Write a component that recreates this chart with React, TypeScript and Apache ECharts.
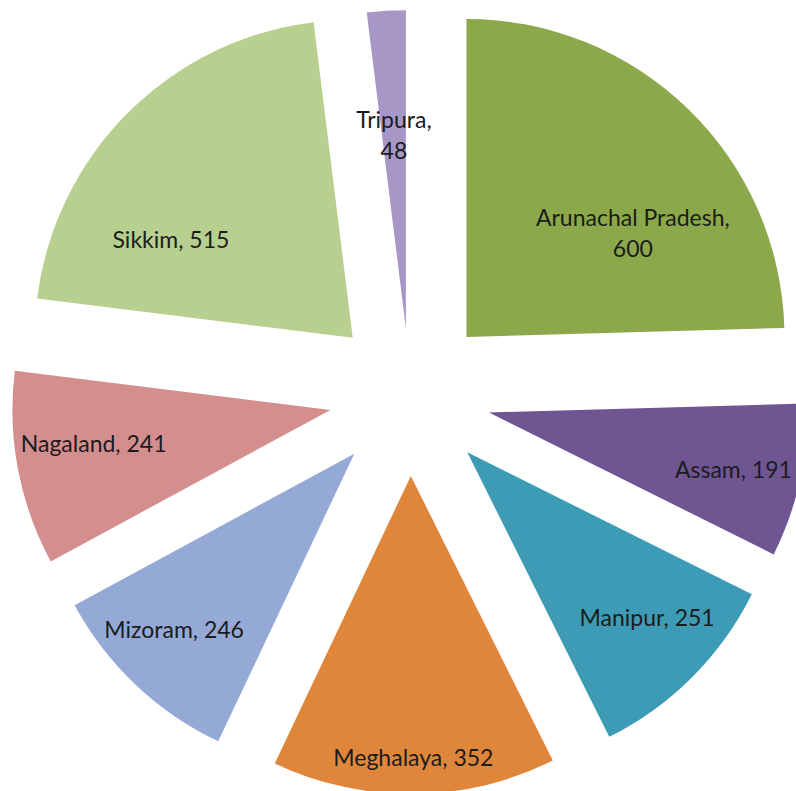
import React, { useEffect, useRef } from "react";
import * as echarts from "echarts";

const states = ["Arunachal Pradesh", "Assam", "Manipur", "Meghalaya", "Mizoram", "Nagaland", "Sikkim", "Tripura"];
const values = [600, 191, 251, 352, 246, 241, 515, 48];

// styles (not data)
const colors = ["#8BA84A", "#705593", "#3D9BB5", "#E0863B", "#94A9D5", "#D48E8D", "#B7CF8F", "#A797C7"];
const explode = [81, 81, 81, 81, 81, 81, 81, 67];
const labelNudge = [[-3, 70], [7, 4], [8, -7], [0, 38], [-13, -1], [2, -12], [-10, 73], [3, 49]];
const twoLine = [true, false, false, false, false, false, false, true];

export default function App() {
  const ref = useRef<HTMLDivElement>(null);
  useEffect(() => {
    document.body.style.margin = "0";
    const chart = echarts.init(ref.current!, null, { renderer: "svg" });
    const center = [410, 395];
    const R = 318;
    const base = {
      type: "pie",
      center,
      startAngle: 90,
      clockwise: true,
      selectedMode: "multiple",
      avoidLabelOverlap: false,
      silent: true,
      emphasis: { disabled: true },
      labelLine: { show: false },
    };
    const offsets = Array.from(new Set(explode));
    const series: any[] = [];
    offsets.forEach((off) => {
      series.push({
        ...base,
        selectedOffset: off,
        radius: [0, R],
        label: { show: false },
        data: states.map((s, i) => ({
          name: s,
          value: values[i],
          selected: true,
          itemStyle: { color: explode[i] === off ? colors[i] : "rgba(0,0,0,0)" },
        })),
      });
    });
    offsets.forEach((off) => {
      series.push({
        ...base,
        selectedOffset: off,
        radius: [162, R],
        itemStyle: { color: "rgba(0,0,0,0)" },
        label: {
          show: true,
          position: "inside",
          fontFamily: "Lato, 'Open Sans', sans-serif",
          fontSize: 23,
          color: "#1c1c1c",
          lineHeight: 31,
        },
        labelLayout: (p: any) => ({
          dx: labelNudge[p.dataIndex][0],
          dy: labelNudge[p.dataIndex][1],
        }),
        data: states.map((s, i) => ({
          name: s,
          value: values[i],
          selected: true,
          label: {
            show: explode[i] === off,
            formatter: twoLine[i] ? `${s},\n${values[i]}` : `${s}, ${values[i]}`,
          },
        })),
      });
    });
    chart.setOption({
      animation: false,
      backgroundColor: "#ffffff",
      series,
    });
    return () => chart.dispose();
  }, []);
  return <div ref={ref} style={{ width: 796, height: 791 }} />;
}
